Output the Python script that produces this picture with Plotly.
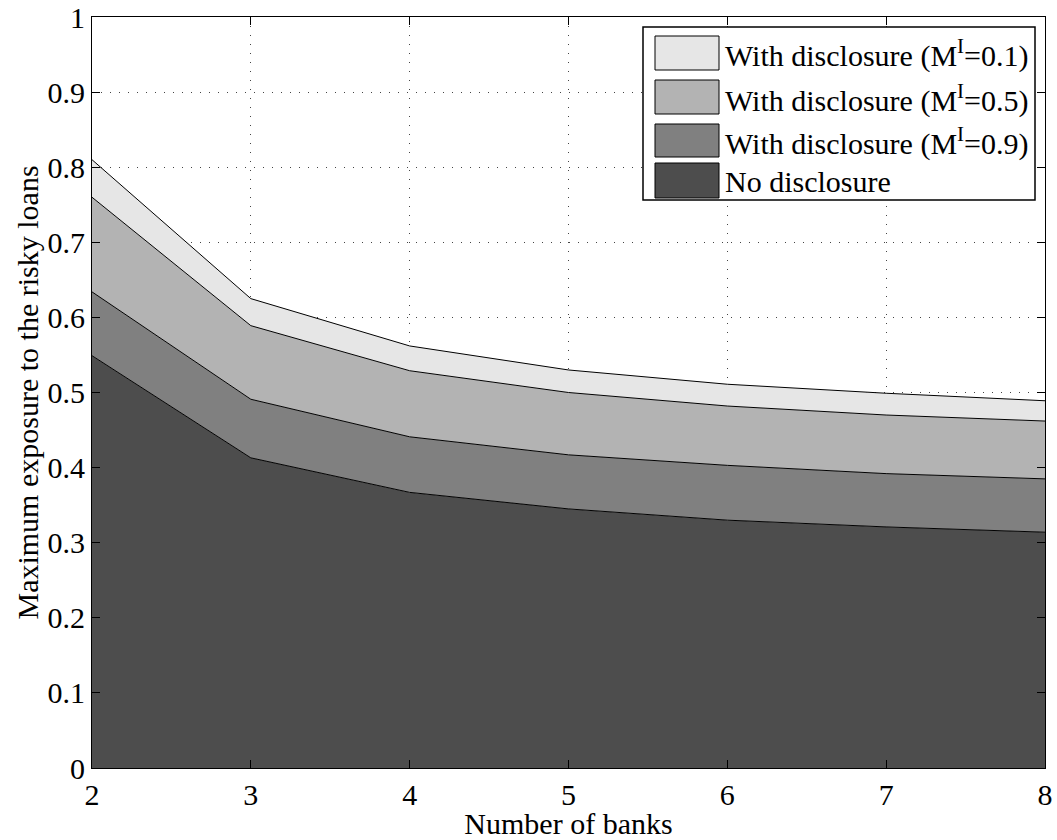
import plotly.graph_objects as go

banks = [2, 3, 4, 5, 6, 7, 8]
no_disclosure = [0.549, 0.413, 0.367, 0.345, 0.330, 0.321, 0.314]
disc_m09 = [0.634, 0.491, 0.441, 0.417, 0.403, 0.392, 0.385]
disc_m05 = [0.760, 0.589, 0.529, 0.500, 0.482, 0.470, 0.462]
disc_m01 = [0.810, 0.625, 0.562, 0.530, 0.511, 0.499, 0.489]

series = [
    ("No disclosure", no_disclosure, "#4d4d4d"),
    ("With disclosure (M<sup>I</sup>=0.9)", disc_m09, "#808080"),
    ("With disclosure (M<sup>I</sup>=0.5)", disc_m05, "#b3b3b3"),
    ("With disclosure (M<sup>I</sup>=0.1)", disc_m01, "#e6e6e6"),
]

FAM = "Liberation Serif, Times New Roman, serif"
FS = 30
font = dict(family=FAM, size=FS, color="black")

fig = go.Figure()
for i, (name, vals, col) in enumerate(series):
    fig.add_trace(go.Scatter(
        x=banks, y=vals, name=name, mode="lines",
        line=dict(color="black", width=1),
        fill="tozeroy" if i == 0 else "tonexty",
        fillcolor=col, showlegend=False, hoverinfo="skip",
    ))

axis_common = dict(
    showline=True, linecolor="black", linewidth=1, mirror="ticks",
    ticks="inside", ticklen=8, tickcolor="black",
    showgrid=True, gridcolor="#444444", griddash="1px,8px", gridwidth=1,
    zeroline=False, tickfont=font, automargin=False,
)
fig.update_xaxes(range=[2, 8], tickvals=banks,
                 title=dict(text="Number of banks", font=font, standoff=0), **axis_common)
fig.update_yaxes(range=[0, 1], tickvals=[i / 10 for i in range(11)],
                 ticktext=["0", "0.1", "0.2", "0.3", "0.4", "0.5", "0.6", "0.7", "0.8", "0.9", "1"],
                 title=dict(text="Maximum exposure to the risky loans", font=font, standoff=0), **axis_common)

# Custom legend (MATLAB style) in plot-area paper coordinates
L, R, T, B = 92, 1045, 17, 768
def px(x):
    return (x - L) / (R - L)
def py(y):
    return (B - y) / (B - T)

shapes = [dict(type="rect", xref="paper", yref="paper",
               x0=px(643), x1=px(1035), y0=py(200), y1=py(27),
               fillcolor="white", line=dict(color="black", width=1.5), layer="above")]
annotations = []
rows = [(36, 70), (80, 114), (124, 157), (163, 198)]
for (name, vals, col), (r0, r1) in zip(reversed(series), rows):
    shapes.append(dict(type="rect", xref="paper", yref="paper",
                       x0=px(655), x1=px(719), y0=py(r1), y1=py(r0),
                       fillcolor=col, line=dict(color="black", width=1), layer="above"))
    annotations.append(dict(xref="paper", yref="paper", x=px(723), y=py((r0 + r1) / 2 + 1),
                            xanchor="left", yanchor="middle", text=name, showarrow=False,
                            font=font))

fig.update_layout(
    template="none",
    width=1057, height=840,
    margin=dict(l=L, r=1057 - R, t=T, b=840 - B, autoexpand=False),
    plot_bgcolor="white", paper_bgcolor="white",
    font=font, showlegend=False,
    shapes=shapes, annotations=annotations,
)

fig.write_html("out.html", config={"displayModeBar": False},
               post_script="document.body.style.margin='0';document.body.style.overflow='hidden';")
